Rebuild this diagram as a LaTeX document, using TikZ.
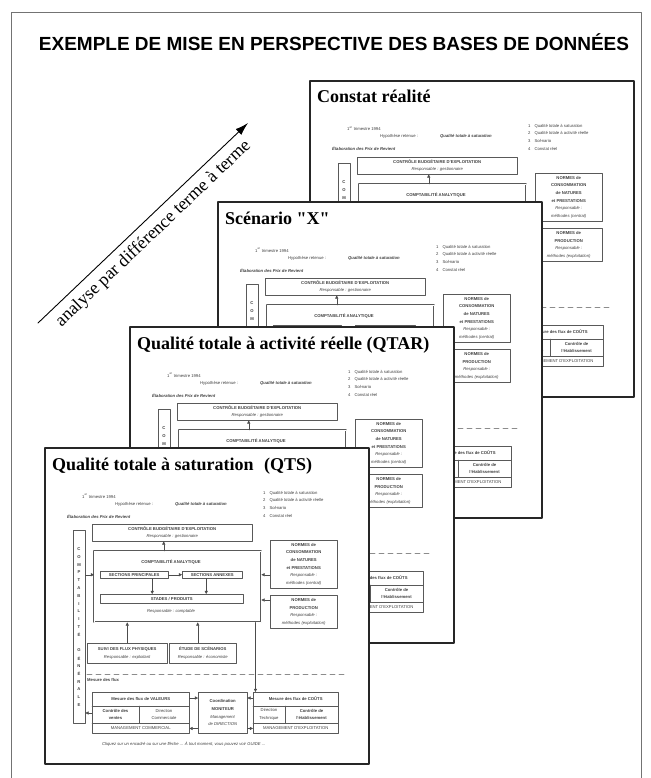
\documentclass[tikz,border=0pt]{standalone}
\usepackage{fontspec}
\setmainfont{Liberation Serif}
\setsansfont{Liberation Sans}
\usetikzlibrary{arrows.meta}
\newcommand{\petitfont}{\sffamily\fontsize{4.2}{7.6}\selectfont}

\begin{document}
\begin{tikzpicture}[x=1pt,y=-1pt,line cap=round,line join=round,
  cadre/.style={draw=black!85,line width=1.3pt,fill=white},
  titre/.style={inner sep=0pt,font=\rmfamily\bfseries\fontsize{18}{18}\selectfont},
  boite/.style={draw=black!65,line width=0.45pt,inner sep=0pt,anchor=north west,
    align=center,font=\petitfont,text=black!75},
  texte/.style={inner sep=0pt,font=\petitfont,text=black!75,align=center},
  fl/.style={-{Triangle[length=3.2pt,width=3.2pt]},draw=black!70,line width=0.45pt},
  trait/.style={draw=black!65,line width=0.45pt}]

% 页面与外框
\useasboundingbox (0,0) rectangle (650,778);
\draw[black!55,line width=0.8pt] (11,778) -- (11,12) -- (641,12) -- (641,778);
\node[font=\sffamily\bfseries\fontsize{19}{19}\selectfont,anchor=base] (entete) at (334,51)
  {EXEMPLE DE MISE EN PERSPECTIVE DES BASES DE DONNÉES};

% 斜向箭头
\coordinate (depart) at (38,323);
\coordinate (fin) at (248,123);
\draw[-{Latex[length=13pt,width=8pt]},line width=0.9pt] (depart) -- (fin)
  node[midway,sloped,below=3pt,font=\rmfamily\fontsize{18}{18}\selectfont] (analyse)
  {analyse par différence terme à terme};

% 一张纸：左上角 (#1,#2)，标题 #3；#4=1 时画出被遮住的部分
\def\feuille#1#2#3#4{%
\begin{scope}[shift={(#1,#2)}]
\draw[cadre] (0,0) rectangle (324,316);
\node[titre,anchor=base west] (nom) at (7,22) {#3};
\node[texte,anchor=base west] (trim) at (37,50) {1\textsuperscript{er} trimestre 1994};
\node[texte,anchor=base west] (hyp) at (70,57) {Hypothèse retenue :};
\node[texte,anchor=base west,font=\petitfont\bfseries\itshape] (hypv) at (130,57) {Qualité totale à saturation};
\node[texte,anchor=base west,font=\petitfont\bfseries\itshape] (elab) at (22,70) {Élaboration des Prix de Revient};
\node[texte,anchor=north west,align=left] (liste) at (218,43)
  {1\hspace{4pt}Qualité totale à saturation\\2\hspace{4pt}Qualité totale à activité réelle\\
   3\hspace{4pt}Scénario\\4\hspace{4pt}Constat réel};
% comptabilité générale
\node[boite,minimum width=12,minimum height=193] (cg) at (28,82) {};
\ifnum#4=1 \def\lettres{C,O,M,P,T,A,B,I,L,I,T,É,,G,É,N,É,R,A,L,E}\else\def\lettres{C,O,M}\fi
\foreach \l [count=\i] in \lettres
  \node[texte,font=\petitfont\bfseries] (cg\i) at (34,{101+(\i-1)*7.8}) {\l};
% contrôle budgétaire
\node[boite,minimum width=160,minimum height=17] (cb) at (47,76)
  {\textbf{CONTRÔLE BUDGÉTAIRE D'EXPLOITATION}\\\textit{Responsable : gestionnaire}};
% comptabilité analytique
\node[boite,double,double distance=1.3pt,minimum width=167,minimum height=71] (ca) at (49,103) {};
\node[texte,font=\petitfont\bfseries] (catxt) at (126,114) {COMPTABILITÉ ANALYTIQUE};
\node[boite,minimum width=68,minimum height=7,font=\petitfont\bfseries] (sp) at (55,123) {SECTIONS PRINCIPALES};
\node[boite,minimum width=60,minimum height=7,font=\petitfont\bfseries] (sa) at (137,123) {SECTIONS ANNEXES};
\draw[fl] (sp) -- (sa);
\draw[fl] ([xshift=-14]ca.north) -- ([xshift=-14]ca.north |- cb.south);
\draw[fl] (cg.east |- sp) -- (ca.west |- sp);
% normes
\node[boite,minimum width=67,minimum height=48] (n1) at (225,92)
  {\textbf{NORMES de}\\\textbf{CONSOMMATION}\\\textbf{de NATURES}\\\textbf{et PRESTATIONS}\\
   \textit{Responsable :}\\\textit{méthodes (central)}};
\node[boite,minimum width=67,minimum height=33] (n2) at (225,147)
  {\textbf{NORMES de}\\\textbf{PRODUCTION}\\\textit{Responsable :}\\\textit{méthodes (exploitation)}};
\draw[fl] (n1.west |- sp) -- (ca.east |- sp);
\draw[fl] ([yshift=-5]n2.north west) -- ([yshift=-5]n2.north west -| ca.east);
% mesure des flux
\draw[black!45,dash pattern=on 5pt off 4pt,line width=0.6pt] (42,226) -- (302,226);
\node[boite,minimum width=85,minimum height=41] (co) at (208,244) {};
\draw[trait] ([yshift=-14]co.north west) -- ([yshift=-14]co.north east)
  ([yshift=10]co.south west) -- ([yshift=10]co.south east)
  ([xshift=32,yshift=-14]co.north west) -- ([xshift=32,yshift=10]co.south west);
\node[texte,font=\petitfont\bfseries] (coh) at ([yshift=-7]co.north) {Mesure des flux de COÛTS};
\node[texte] (cog) at ([xshift=16,yshift=-22.5]co.north west) {Direction\\Technique};
\node[texte,font=\petitfont\bfseries] (cod) at ([xshift=58.5,yshift=-22.5]co.north west) {Contrôle de\\l'établissement};
\node[texte] (cob) at ([yshift=5]co.south) {MANAGEMENT D'EXPLOITATION};
\node[texte,anchor=base west,font=\petitfont\itshape] (pied) at (57,297)
  {Cliquez sur un encadré ou sur une flèche ... À tout moment, vous pouvez voir GUIDE ...};
\ifnum#4=1
\node[boite,minimum width=143,minimum height=9,font=\petitfont\bfseries] (st) at (55,146) {STADES / PRODUITS};
\node[texte,font=\petitfont\itshape] (stresp) at (126,163) {Responsable : comptable};
\draw[fl] ([xshift=18]sp.south) -- ([xshift=18]sp.south |- st.north);
\draw[fl] ([xshift=-6]sa.south) -- ([xshift=-6]sa.south |- st.north);
% suivi, études
\node[boite,minimum width=80,minimum height=20] (su) at (42,195)
  {\textbf{SUIVI DES FLUX PHYSIQUES}\\\textit{Responsable : exploitant}};
\node[boite,minimum width=67,minimum height=20] (et) at (124,195)
  {\textbf{ÉTUDE DE SCÉNARIOS}\\\textit{Responsable : économiste}};
\draw[fl] (su.north) -- (su.north |- ca.south);
\draw[fl] ([xshift=-5]et.north) -- ([xshift=-5]et.north |- ca.south);
\node[texte,anchor=base west,font=\petitfont\bfseries] (mf) at (42,233) {Mesure des flux};
\node[boite,minimum width=97,minimum height=41] (va) at (47,244) {};
\draw[trait] ([yshift=-14]va.north west) -- ([yshift=-14]va.north east)
  ([yshift=10]va.south west) -- ([yshift=10]va.south east)
  ([xshift=47,yshift=-14]va.north west) -- ([xshift=47,yshift=10]va.south west);
\node[texte,font=\petitfont\bfseries] (vah) at ([yshift=-7]va.north) {Mesure des flux de VALEURS};
\node[texte,font=\petitfont\bfseries] (vag) at ([xshift=23.5,yshift=-22.5]va.north west) {Contrôle des\\ventes};
\node[texte] (vad) at ([xshift=72,yshift=-22.5]va.north west) {Direction\\Commerciale};
\node[texte] (vab) at ([yshift=5]va.south) {MANAGEMENT COMMERCIAL};
\node[boite,minimum width=49,minimum height=41] (mo) at (153,244)
  {\textbf{Coordination}\\\textbf{MONITEUR}\\\textit{Management}\\\textit{de DIRECTION}};
\draw[fl] ([xshift=-6]ca.south east) -- ([xshift=-6]ca.south east |- co.north);
\draw[fl] ([yshift=-6]va.north east) -- ([yshift=-6]va.north east -| mo.west);
\draw[fl] ([yshift=-6]co.north west) -- ([yshift=-6]co.north west -| mo.east);
\draw[fl] ([yshift=5]mo.south west) -- ([yshift=5]mo.south west -| va.east);
\draw[fl] ([yshift=5]mo.south east) -- ([yshift=5]mo.south east -| co.west);
\draw[fl] ([yshift=-21]va.north west) -- ([yshift=-21]va.north west -| cg.east);
\fi
\end{scope}}

% 四张纸，由后向前
\feuille{310}{81}{Constat réalité}{0}
\feuille{218}{202}{Scénario \textquotedbl X\textquotedbl}{0}
\feuille{130}{327}{Qualité totale à activité réelle (QTAR)}{0}
\feuille{45}{448}{Qualité totale à saturation\hspace{6pt} (QTS)}{1}

\end{tikzpicture}
\end{document}
